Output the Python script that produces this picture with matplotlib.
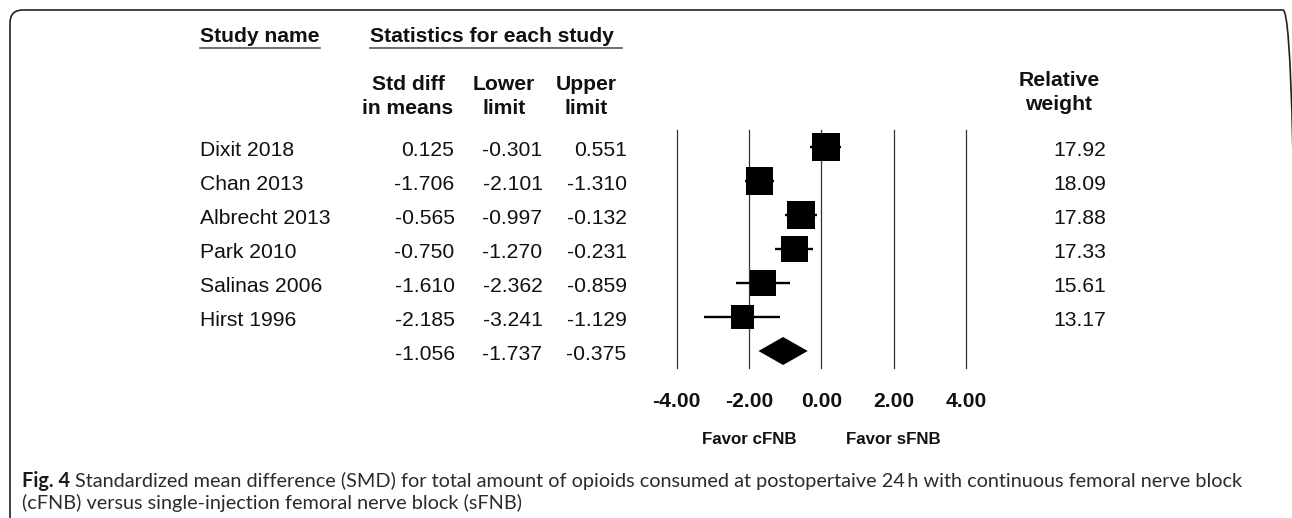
import numpy as np
import matplotlib
matplotlib.use("Agg")
import matplotlib.pyplot as plt
import matplotlib.transforms as mtransforms
from matplotlib.lines import Line2D
from matplotlib.patches import Rectangle, Polygon, FancyBboxPatch

studies = ["Dixit 2018", "Chan 2013", "Albrecht 2013", "Park 2010", "Salinas 2006", "Hirst 1996"]
smd = [0.125, -1.706, -0.565, -0.750, -1.610, -2.185]
lower = [-0.301, -2.101, -0.997, -1.270, -2.362, -3.241]
upper = [0.551, -1.310, -0.132, -0.231, -0.859, -1.129]
weight = [17.92, 18.09, 17.88, 17.33, 15.61, 13.17]
pooled_smd, pooled_lower, pooled_upper = -1.056, -1.737, -0.375
x_ticks = [-4, -2, 0, 2, 4]
favor_labels = ["Favor cFNB", "Favor sFNB"]
caption_lead = "Fig. 4"
caption_line1 = ("Standardized mean difference (SMD) for total amount of opioids consumed "
                 "at postopertaive 24\u2009h with continuous femoral nerve block")
caption_line2 = "(cFNB) versus single-injection femoral nerve block (sFNB)"

W, H = 1292, 518
plt.rcParams["font.family"] = ["Liberation Sans", "DejaVu Sans"]
FS = 15.2
INK = "#111111"

fig = plt.figure(figsize=(W / 100, H / 100), dpi=100)


def fx(x):
    return x / W


def fy(y):
    return 1 - y / H


# forest panel, -4..4 across, one row per study plus the pooled row
left_px, right_px, top_px, bottom_px = 676.6, 966.0, 130.0, 368.0
n = len(studies)
ax = fig.add_axes([fx(left_px), fy(bottom_px), (right_px - left_px) / W, (bottom_px - top_px) / H])
ax.set_xlim(-4, 4)
ax.set_ylim(n + 0.5, -0.5)
for s in ax.spines.values():
    s.set_visible(False)
ax.set_yticks([])
ax.set_xticks(x_ticks)
ax.set_xticklabels([f"{t:.2f}" for t in x_ticks], fontweight="bold", fontsize=FS, color=INK)
ax.tick_params(axis="x", length=0, pad=17)
ax.patch.set_alpha(0)

for t in x_ticks:
    ax.axvline(t, color="#333333", lw=0.9, zorder=1, clip_on=False)

px_per_x = (right_px - left_px) / 8
px_per_row = (bottom_px - top_px) / (n + 1)
max_side = 27.5
wmax = max(weight)
for i, (est, lo, hi, w) in enumerate(zip(smd, lower, upper, weight)):
    ax.plot([lo, hi], [i, i], color="black", lw=1.7, solid_capstyle="butt", zorder=2)
    side = max_side * np.sqrt(w / wmax)
    sx, sy = side / px_per_x, side / px_per_row
    ax.add_patch(Rectangle((est - sx / 2, i - sy / 2), sx, sy, facecolor="black",
                           edgecolor="none", zorder=3))

dh = 14 / px_per_row
ax.add_patch(Polygon([(pooled_lower, n), (pooled_smd, n - dh), (pooled_upper, n), (pooled_smd, n + dh)],
                     closed=True, facecolor="black", edgecolor="none", zorder=3))

# table columns, rows tied to the forest panel's y scale (baseline a bit below row centre)
row_tr = mtransforms.blended_transform_factory(fig.transFigure, ax.transData)
base = 0.27
name_x, smd_x, lo_x, hi_x, wt_x = 200, 454.5, 542.6, 626.6, 1106
cell = dict(transform=row_tr, va="baseline", fontsize=FS, color=INK)
for i, name in enumerate(studies):
    fig.text(fx(name_x), i + base, name, ha="left", **cell)
    fig.text(fx(smd_x), i + base, f"{smd[i]:.3f}", ha="right", **cell)
    fig.text(fx(lo_x), i + base, f"{lower[i]:.3f}", ha="right", **cell)
    fig.text(fx(hi_x), i + base, f"{upper[i]:.3f}", ha="right", **cell)
    fig.text(fx(wt_x), i + base, f"{weight[i]:.2f}", ha="right", **cell)
for xx, v in [(smd_x, pooled_smd), (lo_x, pooled_lower), (hi_x, pooled_upper)]:
    fig.text(fx(xx), n + base, f"{v:.3f}", ha="right", **cell)

# headers
hdr = dict(fontsize=FS, fontweight="bold", color=INK, va="center")
fig.text(fx(200), fy(36), "Study name", ha="left", **hdr)
fig.text(fx(370), fy(36), "Statistics for each study", ha="left", **hdr)
fig.lines.append(Line2D([fx(200), fx(320)], [fy(48), fy(48)], transform=fig.transFigure, color="#555555", lw=1.2))
fig.lines.append(Line2D([fx(370), fx(622)], [fy(48), fy(48)], transform=fig.transFigure, color="#555555", lw=1.2))
for cx, l1, l2 in [(408, "Std diff", "in means"), (504, "Lower", "limit"), (586, "Upper", "limit")]:
    fig.text(fx(cx), fy(84), l1, ha="center", **hdr)
    fig.text(fx(cx), fy(108), l2, ha="center", **hdr)
fig.text(fx(1059), fy(80), "Relative", ha="center", **hdr)
fig.text(fx(1059), fy(104), "weight", ha="center", **hdr)

# favour labels under -2 and +2
fav_tr = mtransforms.blended_transform_factory(ax.transData, fig.transFigure)
for xv, lab in zip([-2, 2], favor_labels):
    fig.text(xv, fy(440), lab, transform=fav_tr, ha="center", va="center",
             fontsize=12.2, fontweight="bold", color=INK)

# rounded frame, right and bottom edges run off the canvas
frame = FancyBboxPatch((0.10, -0.3), 12.86, 5.38, boxstyle="round,pad=0,rounding_size=0.13",
                       transform=fig.dpi_scale_trans, facecolor="none", edgecolor="#222222", lw=1.2)
fig.patches.append(frame)

# caption
cap_font = ["Lato", "DejaVu Sans"]
cap_color = "#2b2b2b"
cap_x0, cap_x1 = 22, 1242
lead = fig.text(fx(cap_x0), fy(481), caption_lead, family=cap_font, fontweight="bold",
                color="#1a1a1a", va="center", ha="left")
rest1 = fig.text(0, fy(481), caption_line1, family=cap_font, color=cap_color, va="center", ha="left")
rest2 = fig.text(fx(cap_x0), fy(503), caption_line2, family=cap_font, color=cap_color, va="center", ha="left")
renderer = fig.canvas.get_renderer()


def set_caption_size(size):
    for t in (lead, rest1, rest2):
        t.set_fontsize(size)
    bb = lead.get_window_extent(renderer)
    rest1.set_x((bb.x1 + 0.25 * size * 100 / 72) / W)
    return rest1.get_window_extent(renderer).x1


right = set_caption_size(12)
set_caption_size(12 * (cap_x1 - cap_x0) / (right - cap_x0))

fig.savefig("out.png", dpi=100, facecolor="white")
